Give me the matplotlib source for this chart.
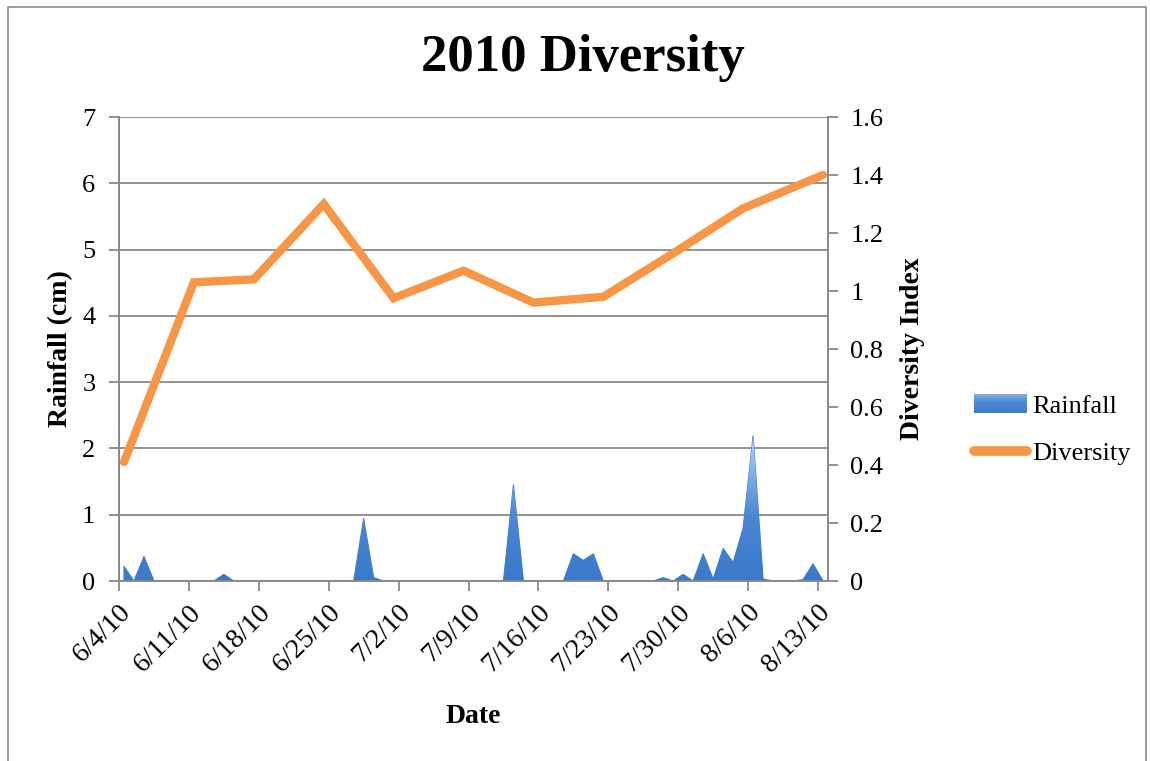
import numpy as np
import pandas as pd
import matplotlib
matplotlib.use("Agg")
import matplotlib.pyplot as plt
from matplotlib.colors import LinearSegmentedColormap
from matplotlib.legend_handler import HandlerBase
from matplotlib.lines import Line2D
from matplotlib.patches import Rectangle
from matplotlib.path import Path
from matplotlib.transforms import ScaledTranslation

plt.rcParams["font.family"] = ["Liberation Serif", "DejaVu Serif"]

# daily rainfall (cm) from 6/4/10 to 8/13/10, nan = no reading
rain_start = "2010-06-04"
rainfall = [0.22, 0, 0.37, 0, np.nan, np.nan, np.nan, np.nan, np.nan, 0,
            0.10, 0, 0, 0, np.nan, np.nan, np.nan, np.nan, np.nan, np.nan,
            np.nan, np.nan, np.nan, 0, 0.94, 0.05, 0, np.nan, np.nan, np.nan,
            np.nan, np.nan, np.nan, np.nan, np.nan, 0, 0, 0, 0, 1.45,
            0, 0, np.nan, np.nan, 0, 0.41, 0.31, 0.41, 0, np.nan,
            np.nan, np.nan, np.nan, 0, 0.05, 0, 0.10, 0, 0.41, 0.03,
            0.49, 0.28, 0.80, 2.19, 0.03, 0, np.nan, 0, 0.02, 0.26,
            0]

div_dates = ["2010-06-04", "2010-06-11", "2010-06-17", "2010-06-24", "2010-07-01",
             "2010-07-08", "2010-07-15", "2010-07-22", "2010-07-29", "2010-08-05",
             "2010-08-13"]
diversity = [0.41, 1.03, 1.04, 1.30, 0.975, 1.07, 0.96, 0.98, 1.13, 1.285, 1.40]

tick_dates = pd.date_range("2010-06-04", "2010-08-13", freq="7D")

blue_cmap = LinearSegmentedColormap.from_list(
    "rain", [(0.0, "#3A79CA"), (0.45, "#4B87D4"), (1.0, "#B6D3FA")])
orange = "#F79646"
grey = "#8A8A8A"

t0 = pd.Timestamp(rain_start)
rain_days = pd.date_range(rain_start, periods=len(rainfall), freq="D")
rx = (rain_days - t0).days.values + 0.5
ry = np.array(rainfall, dtype=float)
dx = (pd.to_datetime(div_dates) - t0).days.values + 0.5
tx = (tick_dates - t0).days.values

fig = plt.figure(figsize=(11.5, 7.61), dpi=100)
ax = fig.add_axes([119 / 1150, 1 - 581 / 761, (828 - 119) / 1150, (581 - 117) / 761])
ax2 = ax.twinx()

# rainfall area with vertical gradient
poly = ax.fill_between(rx, 0, ry, facecolor="none", edgecolor="#3F7DCD", lw=0.8, zorder=2)
clip = Path.make_compound_path(*poly.get_paths())
grad = np.linspace(0, 1, 256).reshape(-1, 1)
img = ax.imshow(grad, cmap=blue_cmap, origin="lower", aspect="auto",
                extent=[0, 71, 0, np.nanmax(ry)], zorder=2)
img.set_clip_path(clip, transform=ax.transData)

ax2.plot(dx, diversity, color=orange, lw=6, solid_capstyle="round",
         solid_joinstyle="miter", zorder=3)

ax.set_xlim(0, 71)
ax.set_ylim(0, 7)
ax2.set_ylim(0, 1.6)
ax.set_yticks(range(0, 8))
ax2.set_yticks(np.arange(0, 1.61, 0.2))
ax2.set_yticklabels(["0", "0.2", "0.4", "0.6", "0.8", "1", "1.2", "1.4", "1.6"])
ax.set_xticks(tx)
ax.set_xticklabels([f"{d.month}/{d.day}/{d:%y}" for d in tick_dates],
                   rotation=45, ha="right", va="center", rotation_mode="anchor")

ax.yaxis.grid(True, color=grey, lw=1.3)
ax.set_axisbelow(True)
for a in (ax, ax2):
    for s in a.spines.values():
        s.set_color(grey)
        s.set_linewidth(1.3)
    a.spines["top"].set_visible(False)
ax.tick_params(axis="both", colors=grey, labelcolor="black", length=7, width=1.3)
ax.tick_params(axis="y", pad=10, labelsize=19)
ax.tick_params(axis="x", pad=13, labelsize=20)
ax2.tick_params(axis="y", colors=grey, labelcolor="black", labelsize=19,
                length=7, width=1.3, pad=9)

# nudge the slanted date labels right of their ticks
shift = ScaledTranslation(6 / 72, 0, fig.dpi_scale_trans)
for lab in ax.get_xticklabels():
    lab.set_transform(lab.get_transform() + shift)

ax.set_ylabel("Rainfall (cm)", fontsize=20, fontweight="bold", va="center")
ax.yaxis.set_label_coords(-0.083, 0.5)
ax2.set_ylabel("Diversity Index", fontsize=20, fontweight="bold", va="center")
ax2.yaxis.set_label_coords(1.1185, 0.5)
ax.set_xlabel("Date", fontsize=20, fontweight="bold", va="center")
ax.xaxis.set_label_coords(0.5, -0.291)
fig.text(583 / 1150, 1 - 58 / 761, "2010 Diversity", fontsize=38,
         fontweight="bold", ha="center", va="center")


class GradientHandler(HandlerBase):
    def create_artists(self, legend, orig, xd, yd, width, height, fontsize, trans):
        n = 20
        out = []
        for k in range(n):
            r = Rectangle((xd, yd + height * k / n), width, height / n + 0.3,
                          facecolor=blue_cmap(0.1 + 0.6 * k / (n - 1)),
                          edgecolor="none", transform=trans)
            out.append(r)
        return out


rain_handle = Rectangle((0, 0), 1, 1)
div_handle = Line2D([], [], color=orange, lw=7, solid_capstyle="round")
fig.legend([rain_handle, div_handle], ["Rainfall", "Diversity"],
           handler_map={rain_handle: GradientHandler()},
           loc="center left", bbox_to_anchor=(950 / 1150, 1 - 430 / 761),
           frameon=False, fontsize=19, handlelength=2.0, handletextpad=0.22,
           labelspacing=0.9)

fig.patches.append(Rectangle((8 / 1150, -0.02), (1146 - 8) / 1150, (761 - 7) / 761 + 0.02,
                             transform=fig.transFigure, fill=False,
                             edgecolor="#8C8C8C", lw=1.2))

fig.savefig("out.png", dpi=100)
